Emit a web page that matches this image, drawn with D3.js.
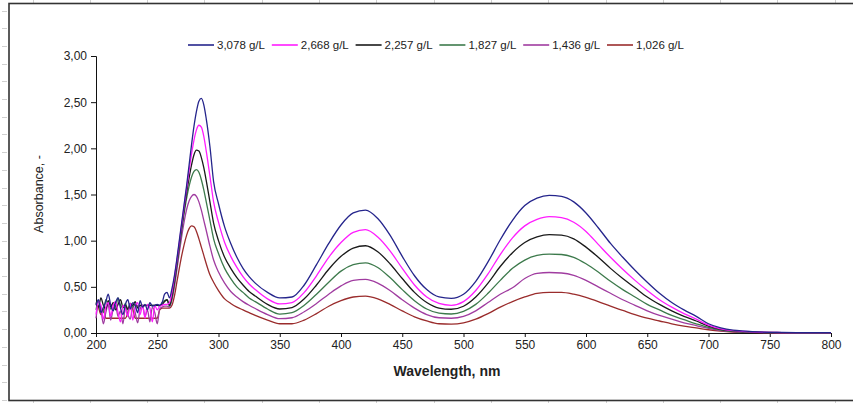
<!DOCTYPE html>
<meta charset="utf-8">
<style>
body{margin:0;background:#fff;}
text{font-family:'Liberation Sans',Arial,sans-serif;fill:#222;}
</style>
<svg id="svg"></svg>
<script src="https://d3js.org/d3.v7.min.js"></script>
<script>
var width = 853, height = 403;

// legend labels, one per series
var names = ["3,078 g/L", "2,668 g/L", "2,257 g/L", "1,827 g/L", "1,436 g/L", "1,026 g/L"];
var colours = ["#25258c", "#ff1cff", "#1a1a1a", "#3d7a4c", "#a03ca0", "#9a2c2c"];

// noisy part of the spectrum, 200..258 nm every 2 nm
var noiseWl = [200,202,204,206,208,210,212,214,216,218,220,222,224,226,228,230,232,234,236,238,240,242,244,246,248,250,252,254,256,258];
var noise = [
  [0.30,0.36,0.22,0.28,0.34,0.42,0.30,0.24,0.33,0.38,0.27,0.20,0.31,0.36,0.26,0.33,0.30,0.22,0.35,0.28,0.31,0.25,0.33,0.29,0.30,0.31,0.30,0.33,0.42,0.44],
  [0.20,0.34,0.30,0.15,0.28,0.33,0.18,0.30,0.34,0.22,0.12,0.30,0.26,0.18,0.32,0.14,0.28,0.33,0.20,0.30,0.16,0.31,0.27,0.12,0.30,0.25,0.29,0.30,0.31,0.31],
  [0.33,0.28,0.38,0.30,0.26,0.35,0.28,0.33,0.25,0.31,0.36,0.28,0.30,0.26,0.32,0.30,0.34,0.27,0.30,0.30,0.30,0.30,0.30,0.30,0.30,0.30,0.30,0.31,0.34,0.36],
  [0.25,0.35,0.27,0.22,0.36,0.30,0.26,0.33,0.28,0.38,0.30,0.27,0.32,0.25,0.30,0.28,0.31,0.29,0.30,0.28,0.30,0.30,0.30,0.30,0.30,0.30,0.29,0.33,0.35,0.36],
  [0.16,0.30,0.25,0.10,0.22,0.31,0.14,0.26,0.30,0.18,0.24,0.10,0.28,0.20,0.15,0.30,0.22,0.11,0.26,0.30,0.18,0.25,0.12,0.28,0.22,0.10,0.26,0.28,0.29,0.29],
  [0.32,0.28,0.20,0.26,0.16,0.16,0.16,0.16,0.16,0.16,0.16,0.16,0.16,0.22,0.30,0.26,0.16,0.16,0.16,0.16,0.16,0.16,0.16,0.16,0.16,0.16,0.25,0.27,0.27,0.27]
];

// smooth part, 260..800 nm
var wl = [260,262,264,266,268,270,272,274,276,278,280,282,284,286,288,290,293,296,300,305,310,315,320,325,330,340,350,360,370,380,390,400,410,420,430,440,450,460,470,480,490,500,510,520,530,540,550,560,570,580,590,600,610,620,630,640,650,660,670,680,690,700,710,720,730,740,760,780,800];
var smooth = [
  [0.38,0.48,0.62,0.80,1.00,1.20,1.40,1.60,1.82,2.04,2.24,2.40,2.51,2.54,2.47,2.32,2.02,1.64,1.40,1.15,0.97,0.82,0.70,0.61,0.54,0.44,0.38,0.39,0.52,0.74,0.97,1.17,1.30,1.33,1.24,1.06,0.83,0.62,0.47,0.39,0.375,0.42,0.56,0.77,1.01,1.22,1.38,1.46,1.49,1.48,1.42,1.30,1.14,0.97,0.82,0.68,0.55,0.43,0.33,0.25,0.18,0.10,0.055,0.03,0.02,0.012,0.006,0.003,0.003],
  [0.33,0.44,0.60,0.78,0.98,1.18,1.38,1.57,1.76,1.94,2.09,2.20,2.25,2.23,2.13,1.97,1.70,1.42,1.20,0.98,0.83,0.71,0.61,0.53,0.47,0.37,0.315,0.33,0.44,0.62,0.82,0.98,1.09,1.12,1.04,0.89,0.70,0.52,0.39,0.32,0.30,0.34,0.46,0.64,0.85,1.03,1.16,1.23,1.26,1.25,1.20,1.10,0.96,0.82,0.69,0.57,0.46,0.36,0.28,0.21,0.15,0.085,0.045,0.025,0.016,0.01,0.005,0.003,0.003],
  [0.30,0.40,0.56,0.75,0.95,1.15,1.34,1.52,1.68,1.82,1.93,1.98,1.97,1.90,1.79,1.65,1.42,1.19,1.00,0.82,0.70,0.60,0.52,0.45,0.40,0.31,0.26,0.275,0.37,0.52,0.69,0.83,0.92,0.945,0.88,0.75,0.59,0.44,0.33,0.27,0.257,0.29,0.39,0.54,0.72,0.87,0.98,1.04,1.065,1.06,1.02,0.93,0.82,0.70,0.59,0.49,0.39,0.31,0.24,0.18,0.13,0.075,0.04,0.022,0.014,0.009,0.005,0.003,0.003],
  [0.29,0.38,0.53,0.72,0.92,1.12,1.30,1.46,1.59,1.69,1.75,1.77,1.74,1.66,1.55,1.42,1.22,1.02,0.86,0.70,0.59,0.50,0.44,0.38,0.34,0.26,0.205,0.22,0.30,0.42,0.55,0.67,0.74,0.76,0.71,0.60,0.47,0.35,0.26,0.215,0.206,0.235,0.31,0.43,0.57,0.70,0.79,0.84,0.855,0.85,0.82,0.75,0.66,0.56,0.47,0.39,0.31,0.25,0.19,0.145,0.10,0.06,0.032,0.018,0.011,0.007,0.004,0.002,0.002],
  [0.28,0.36,0.50,0.68,0.87,1.05,1.21,1.34,1.43,1.48,1.50,1.48,1.42,1.33,1.22,1.11,0.94,0.79,0.66,0.54,0.45,0.39,0.34,0.30,0.265,0.20,0.155,0.165,0.23,0.32,0.42,0.51,0.57,0.58,0.54,0.46,0.36,0.27,0.20,0.165,0.16,0.18,0.24,0.33,0.42,0.49,0.59,0.645,0.655,0.65,0.625,0.57,0.50,0.43,0.36,0.30,0.24,0.19,0.15,0.11,0.08,0.05,0.027,0.015,0.009,0.006,0.003,0.002,0.002],
  [0.27,0.30,0.40,0.55,0.70,0.84,0.96,1.06,1.13,1.16,1.15,1.10,1.02,0.93,0.84,0.75,0.63,0.55,0.46,0.37,0.32,0.28,0.25,0.22,0.19,0.14,0.10,0.10,0.14,0.21,0.29,0.35,0.39,0.40,0.37,0.31,0.24,0.175,0.13,0.10,0.097,0.11,0.15,0.21,0.28,0.34,0.39,0.43,0.44,0.44,0.42,0.385,0.34,0.29,0.245,0.20,0.16,0.13,0.10,0.075,0.055,0.035,0.02,0.011,0.007,0.004,0.002,0.001,0.001]
];

var xTicks = d3.range(200, 801, 50);
var yTicks = d3.range(0, 3.01, 0.5);

var svg = d3.select("#svg").attr("width", width).attr("height", height);

// spreadsheet grid marks around the chart object
var grid = svg.append("g").attr("stroke", "#d0d0d0").attr("stroke-width", 1);
d3.range(10.5, height, 17.7).forEach(function(y){
  grid.append("line").attr("x1", 2).attr("x2", 7).attr("y1", Math.round(y)+0.5).attr("y2", Math.round(y)+0.5);
});
d3.range(32.5, width, 57.3).forEach(function(x){
  grid.append("line").attr("x1", Math.round(x)+0.5).attr("x2", Math.round(x)+0.5).attr("y1", 0).attr("y2", 3);
  grid.append("line").attr("x1", Math.round(x)+0.5).attr("x2", Math.round(x)+0.5).attr("y1", 401).attr("y2", 403);
});

// chart frame
svg.append("rect").attr("x", 9).attr("y", 3.5).attr("width", width + 10).attr("height", 397)
  .attr("fill", "#fff").attr("stroke", "#333").attr("stroke-width", 1.6);

var x = d3.scaleLinear().domain([200, 800]).range([96, 831]);
var y = d3.scaleLinear().domain([0, 3]).range([333, 56]);

var g = svg.append("g");

var xAxis = g.append("g").attr("transform", "translate(0,333)")
  .call(d3.axisBottom(x).tickValues(xTicks).tickSize(4).tickPadding(3));
var yAxis = g.append("g").attr("transform", "translate(96,0)")
  .call(d3.axisLeft(y).tickValues(yTicks).tickSize(5).tickPadding(4)
    .tickFormat(function(d){ return d3.format(".2f")(d).replace(".", ","); }));
[xAxis, yAxis].forEach(function(a){
  a.select(".domain").attr("stroke", "#111");
  a.selectAll(".tick line").attr("stroke", "#111");
  a.selectAll("text").style("font-size", "12px").attr("fill", "#2a2a2a");
});

var line = d3.line()
  .x(function(d){ return x(d[0]); })
  .y(function(d){ return y(d[1]); })
  .curve(d3.curveMonotoneX);

// draw the lowest concentration first so the darker ones sit on top
d3.range(names.length).reverse().forEach(function(i){
  var pts = noiseWl.map(function(w, j){ return [w, noise[i][j]]; })
    .concat(wl.map(function(w, j){ return [w, smooth[i][j]]; }));
  g.append("path").datum(pts)
    .attr("fill", "none")
    .attr("stroke", colours[i])
    .attr("stroke-width", 1.3)
    .attr("d", line);
});

// legend
var leg = svg.append("g");
names.forEach(function(n, i){
  var lx = 188 + i * 83.8;
  leg.append("line").attr("x1", lx).attr("x2", lx + 26).attr("y1", 45).attr("y2", 45)
    .attr("stroke", colours[i]).attr("stroke-width", 1.6);
  leg.append("text").attr("x", lx + 29).attr("y", 49).style("font-size", "11.5px").text(n);
});

// axis titles
svg.append("text").attr("x", 447).attr("y", 376).attr("text-anchor", "middle")
  .style("font-size", "14px").style("font-weight", "bold").text("Wavelength, nm");
svg.append("text").attr("transform", "translate(43,194) rotate(-90)").attr("text-anchor", "middle")
  .style("font-size", "12.5px").text("Absorbance, -");
</script>
